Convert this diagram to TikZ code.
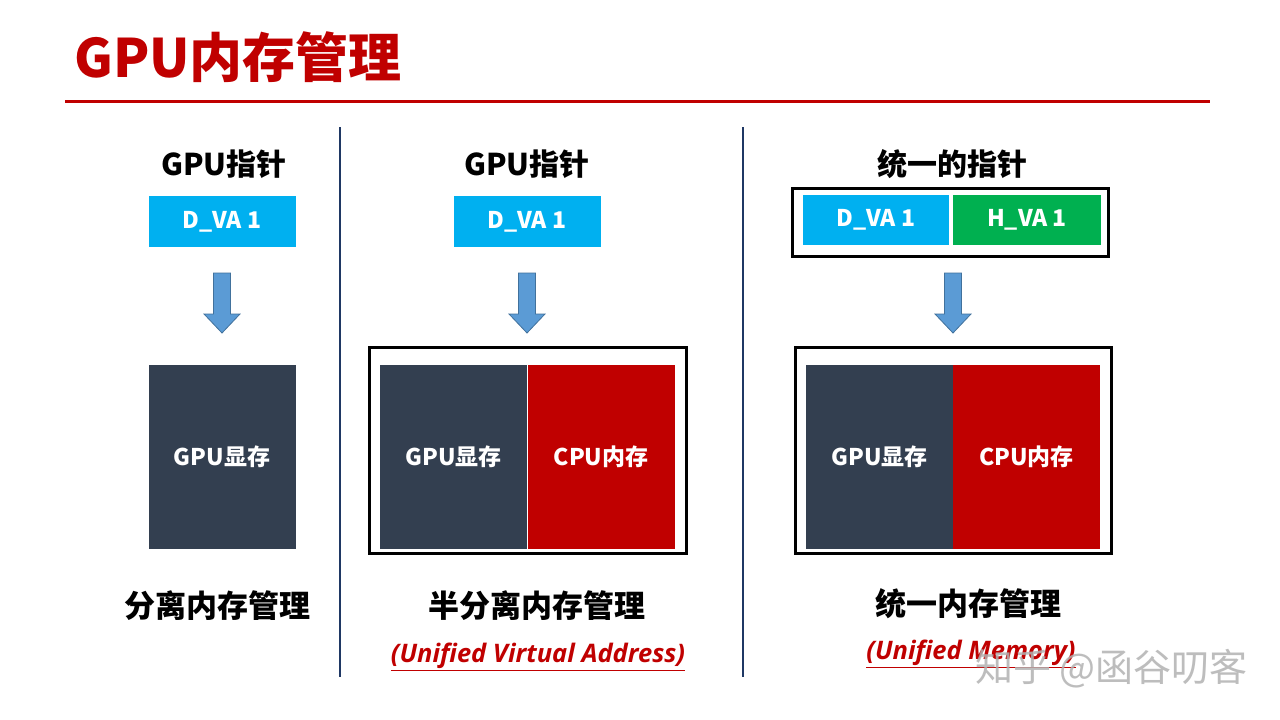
\documentclass[tikz,border=0pt]{standalone}
\usepackage{fontspec}
\setmainfont{Noto Sans CJK SC}
\newfontfamily\cjk{Noto Sans CJK SC}
\newfontfamily\latit{Open Sans}
\definecolor{titred}{HTML}{C00000}
\definecolor{skyb}{HTML}{00B0F0}
\definecolor{grn}{HTML}{00B050}
\definecolor{slate}{HTML}{333F50}
\definecolor{navy}{HTML}{1F3864}
\definecolor{arrowb}{HTML}{5B9BD5}
\definecolor{arrowe}{HTML}{41719C}
\tikzset{
  heading/.style={font=\cjk\bfseries\fontsize{30}{34}\selectfont, text=black, inner sep=0pt},
  ptrbox/.style={fill=skyb, text=white, font=\cjk\bfseries\fontsize{23}{26}\selectfont, inner sep=0pt, minimum height=51pt, minimum width=147pt},
  hostbox/.style={ptrbox, fill=grn},
  gpumem/.style={fill=slate, text=white, font=\cjk\bfseries\fontsize{23}{26}\selectfont, inner sep=0pt, minimum width=147pt, minimum height=184pt},
  cpumem/.style={gpumem, fill=titred},
  frame/.style={draw=black, line width=3pt, fill=none},
  divider/.style={draw=navy, line width=2pt},
  downarrow/.style={fill=arrowb, draw=arrowe, line width=0.8pt},
  subt/.style={font=\latit\bfseries\itshape\fontsize{25.5}{28}\selectfont, text=titred, inner sep=0pt},
}
\newcommand{\dnarrow}[2]{%
  \draw[downarrow] (#1-8.5,#2) -- (#1+8.5,#2) -- (#1+8.5,#2+41) -- (#1+18,#2+41) -- (#1,#2+60) -- (#1-18,#2+41) -- (#1-8.5,#2+41) -- cycle;}
\begin{document}
\begin{tikzpicture}[x=1pt,y=-1pt]
\useasboundingbox (0,0) rectangle (1280,720);
\fill[white] (0,0) rectangle (1280,720);
% title
\node[anchor=west, inner sep=0pt, text=titred, font=\cjk\bfseries\fontsize{53}{58}\selectfont] (title) at (74,57) {GPU内存管理};
\coordinate (rl) at (65,101);
\coordinate (rr) at (1210,101);
\draw[titred, line width=3pt] (rl) -- (rr);
% dividers
\coordinate (d1t) at (340,127); \coordinate (d1b) at (340,677);
\coordinate (d2t) at (743,127); \coordinate (d2b) at (743,677);
\draw[divider] (d1t) -- (d1b);
\draw[divider] (d2t) -- (d2b);

% column 1
\node[heading] (h1) at (224,164) {GPU指针};
\node[ptrbox] (p1) at (222,221.5) {D\_VA 1};
\dnarrow{222}{273}
\node[gpumem] (g1) at (222,457) {GPU显存};
\node[heading, font=\cjk\bfseries\fontsize{31}{34}\selectfont] (l1) at (217,606) {分离内存管理};

% column 2
\node[heading] (h2) at (527,164) {GPU指针};
\node[ptrbox] (p2) at (527,221.5) {D\_VA 1};
\dnarrow{527}{273}
\node[gpumem] (g2) at (453.5,457) {GPU显存};
\node[cpumem] (c2) at (601,457) {CPU内存};
\draw[frame] (369.5,347.5) rectangle (686,553);
\node[heading, font=\cjk\bfseries\fontsize{31}{34}\selectfont] (l2) at (537,606) {半分离内存管理};
\node[subt] (s2) at (538,657) {\underline{(Unified Virtual Address)}};

% column 3
\node[heading] (h3) at (952,164) {统一的指针};
\node[ptrbox, minimum width=146pt, minimum height=50pt] (p3) at (876,220) {D\_VA 1};
\node[hostbox, minimum width=148pt, minimum height=50pt] (hv3) at (1027,220) {H\_VA 1};
\draw[frame] (792.5,188.5) rectangle (1108,256);
\dnarrow{953}{273}
\node[gpumem] (g3) at (879.5,457) {GPU显存};
\node[cpumem] (c3) at (1026.5,457) {CPU内存};
\draw[frame] (795.5,347.5) rectangle (1111,553);
\node[heading, font=\cjk\bfseries\fontsize{31}{34}\selectfont] (l3) at (968,604) {统一内存管理};
\node[subt] (s3) at (971,654) {\underline{(Unified Memory)}};

% watermark
\node[anchor=west, inner sep=0pt, text=gray!60, opacity=0.85, font=\cjk\fontsize{38}{40}\selectfont] (wm) at (975,669) {知乎 @函谷叨客};
\end{tikzpicture}
\end{document}
